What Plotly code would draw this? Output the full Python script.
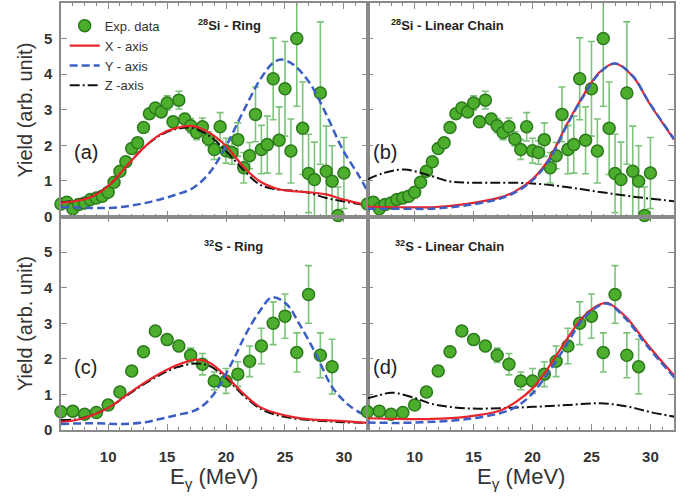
import plotly.graph_objects as go

# ---------------- data ----------------
si_energy = [6.0, 6.5, 7.0, 7.5, 8.0, 8.5, 9.0, 9.5, 10.0, 10.5, 11.0, 11.5, 12.0, 12.5,
             13.0, 13.5, 14.0, 14.5, 15.0, 15.5, 16.0, 16.5, 17.0, 17.5, 18.0, 18.5,
             19.0, 19.5, 20.0, 20.5, 21.0, 21.5, 22.0, 22.5, 23.0, 23.5, 24.0, 24.5,
             25.0, 25.5, 26.0, 26.5, 27.0, 27.5, 28.0, 28.5, 29.0, 29.5, 30.0]
si_yield = [0.35, 0.40, 0.22, 0.34, 0.38, 0.48, 0.52, 0.57, 0.68, 0.96, 1.27, 1.54, 1.91, 2.07,
            2.50, 2.89, 3.05, 2.94, 3.19, 2.66, 3.27, 2.74, 2.55, 2.36, 2.52, 2.18,
            1.88, 2.52, 1.85, 1.80, 2.16, 1.37, 1.71, 2.87, 1.88, 2.02, 3.87, 2.14,
            3.59, 1.84, 5.00, 2.48, 1.21, 1.04, 3.47, 1.27, 0.99, 0.03, 1.22]
si_err_up = [0.05, 0.05, 0.05, 0.05, 0.05, 0.05, 0.05, 0.05, 0.05, 0.05, 0.05, 0.05, 0.05, 0.08,
             0.10, 0.10, 0.10, 0.10, 0.20, 0.15, 0.25, 0.15, 0.20, 0.20, 0.25, 0.20,
             0.28, 0.40, 0.35, 0.33, 0.47, 0.43, 0.37, 0.77, 0.68, 0.80, 1.15, 0.94,
             1.33, 0.90, 1.90, 1.30, 1.10, 1.05, 2.00, 1.27, 1.00, 0.80, 1.00]
si_err_down = [0.05, 0.05, 0.05, 0.05, 0.05, 0.05, 0.05, 0.05, 0.05, 0.05, 0.05, 0.05, 0.05, 0.08,
               0.10, 0.10, 0.10, 0.10, 0.20, 0.15, 0.25, 0.15, 0.20, 0.20, 0.25, 0.20,
               0.28, 0.40, 0.35, 0.33, 0.47, 0.43, 0.37, 0.77, 0.68, 0.80, 1.15, 0.94,
               1.33, 0.90, 1.90, 1.30, 1.10, 1.04, 2.00, 1.27, 0.99, 0.03, 1.00]

s_energy = [6, 7, 8, 9, 10, 11, 12, 13, 14, 15, 16, 17, 18, 19, 20, 21, 22, 23, 24, 25, 26, 27, 28, 29]
s_yield = [0.51, 0.53, 0.44, 0.49, 0.70, 1.07, 1.66, 2.20, 2.78, 2.54, 2.36, 2.10,
           1.85, 1.38, 1.38, 1.57, 1.93, 2.36, 3.00, 3.20, 2.18, 3.81, 2.10, 1.78]
s_err = [0.05, 0.05, 0.05, 0.05, 0.05, 0.05, 0.05, 0.05, 0.10, 0.10, 0.15, 0.20,
         0.30, 0.25, 0.35, 0.35, 0.43, 0.50, 0.60, 0.62, 0.55, 0.81, 0.63, 0.77]

# (a) 28Si ring
a_x_E = [6, 7.5, 8.7, 10.15, 11.55, 13, 14.4, 15.8, 17.2, 18.6, 20, 21.45, 22.85, 24.3, 25.7, 27.1, 28.5, 29.9, 32]
a_x_Y = [0.38, 0.45, 0.57, 0.90, 1.41, 1.93, 2.30, 2.49, 2.54, 2.35, 1.98, 1.41, 0.99, 0.78, 0.71, 0.68, 0.62, 0.48, 0.32]
a_z_E = [6, 7.5, 8.7, 10.15, 11.55, 13, 14.4, 15.8, 17.2, 18.6, 20, 21.45, 22.85, 24.3, 25.7, 27.1, 28.5, 29.9, 32]
a_z_Y = [0.40, 0.46, 0.58, 0.90, 1.41, 1.93, 2.28, 2.46, 2.49, 2.26, 1.84, 1.32, 0.90, 0.76, 0.73, 0.66, 0.52, 0.43, 0.31]
a_y_E = [6, 8.7, 10.1, 11.6, 13.0, 14.4, 15.8, 17.2, 18.6, 20.0, 21.4, 22.9, 24.0, 24.7, 25.7, 27.1, 28.5, 29.9, 31.3, 32]
a_y_Y = [0.27, 0.24, 0.24, 0.29, 0.37, 0.48, 0.62, 0.80, 1.23, 1.98, 2.91, 3.85, 4.32, 4.41, 4.27, 3.75, 2.87, 1.88, 1.13, 0.71]

# (b) 28Si linear chain
b_xy_E = [6, 8.7, 11.5, 14.3, 17.2, 18.6, 20, 21.4, 22.85, 24.3, 25.7, 27, 28.5, 29.9, 32]
b_x_Y = [0.27, 0.26, 0.26, 0.35, 0.53, 0.72, 1.05, 1.62, 2.55, 3.40, 4.06, 4.30, 3.94, 3.19, 2.16]
b_y_Y = [0.22, 0.22, 0.22, 0.31, 0.50, 0.69, 1.02, 1.58, 2.52, 3.37, 4.04, 4.30, 3.95, 3.20, 2.18]
b_z_E = [6, 7.25, 9.1, 11.5, 12.9, 14.3, 17.2, 20, 22.85, 25.7, 28.5, 32]
b_z_Y = [1.04, 1.21, 1.32, 1.13, 0.99, 0.95, 0.95, 0.93, 0.83, 0.69, 0.56, 0.43]

# (c) 32S ring
c_xz_E = [6, 7.3, 8.7, 10.15, 11.55, 13, 14.4, 15.8, 17.5, 18.6, 20, 21.45, 22.85, 24.3, 25.7, 27.1, 29.9, 32]
c_x_Y = [0.23, 0.28, 0.42, 0.65, 0.98, 1.31, 1.59, 1.82, 1.98, 1.89, 1.51, 1.03, 0.65, 0.47, 0.36, 0.30, 0.25, 0.20]
c_z_Y = [0.28, 0.30, 0.43, 0.65, 0.96, 1.28, 1.55, 1.76, 1.87, 1.80, 1.46, 0.98, 0.61, 0.42, 0.33, 0.28, 0.22, 0.20]
c_y_E = [6, 8.7, 11, 13, 14.4, 15.8, 17.2, 18.1, 19.2, 20.6, 21.7, 22.9, 23.9, 25.1, 26.2, 27.6, 29, 30.4, 32]
c_y_Y = [0.17, 0.19, 0.17, 0.21, 0.31, 0.42, 0.53, 0.70, 1.12, 1.96, 2.71, 3.36, 3.73, 3.55, 2.99, 2.15, 1.21, 0.70, 0.37]

# (d) 32S linear chain
d_xy_E = [6, 8.7, 11.5, 14.3, 17.2, 18.6, 20, 21.4, 22.85, 24.3, 25.7, 26.4, 27.9, 29.9, 32.1]
d_x_Y = [0.33, 0.31, 0.31, 0.37, 0.54, 0.79, 1.17, 1.78, 2.52, 3.18, 3.53, 3.57, 3.18, 2.34, 1.50]
d_y_Y = [0.21, 0.20, 0.23, 0.30, 0.47, 0.65, 1.03, 1.64, 2.38, 3.13, 3.50, 3.55, 3.13, 2.29, 1.45]
d_z_E = [6, 7, 8.1, 10.1, 11.5, 14.3, 17.2, 20, 22.85, 25.7, 27.9, 29.9, 32.1]
d_z_Y = [0.89, 0.98, 1.05, 0.89, 0.73, 0.61, 0.61, 0.65, 0.70, 0.75, 0.67, 0.51, 0.37]

legend_names = ["Exp. data", "X - axis", "Y - axis", "Z -axis"]
panel_titles = ["<sup>28</sup>Si - Ring", "<sup>28</sup>Si - Linear Chain",
                "<sup>32</sup>S - Ring", "<sup>32</sup>S - Linear Chain"]
panel_letters = ["(a)", "(b)", "(c)", "(d)"]

# ---------------- styles ----------------
FONT = "Liberation Sans, Arial, sans-serif"
GREEN = "#4cae2c"
GREEN_EDGE = "#2b7a1c"
ERR = "#7cc47a"
RED = "#e8242c"
BLUE = "#3b5fc4"
BLACK = "#111111"
AX = "#8a8a8a"
DASHDOT = "10px,3px,2px,3px"

fig = go.Figure()

panels = [
    ("x", "y", si_energy, si_yield, si_err_up, si_err_down,
     (a_x_E, a_x_Y), (a_y_E, a_y_Y), (a_z_E, a_z_Y)),
    ("x2", "y2", si_energy, si_yield, si_err_up, si_err_down,
     (b_xy_E, b_x_Y), (b_xy_E, b_y_Y), (b_z_E, b_z_Y)),
    ("x3", "y3", s_energy, s_yield, s_err, s_err,
     (c_xz_E, c_x_Y), (c_y_E, c_y_Y), (c_xz_E, c_z_Y)),
    ("x4", "y4", s_energy, s_yield, s_err, s_err,
     (d_xy_E, d_x_Y), (d_xy_E, d_y_Y), (d_z_E, d_z_Y)),
]

for i, (xa, ya, ex, ey, eu, ed, cx, cy, cz) in enumerate(panels):
    first = i == 0
    fig.add_trace(go.Scatter(
        x=ex, y=ey, mode="markers", name=legend_names[0], showlegend=first,
        legendrank=1, xaxis=xa, yaxis=ya, cliponaxis=False,
        marker=dict(size=12, color=GREEN, line=dict(color=GREEN_EDGE, width=1.5)),
        error_y=dict(type="data", array=eu, arrayminus=ed, symmetric=False,
                     color=ERR, thickness=1.6, width=3.5),
    ))
    fig.add_trace(go.Scatter(
        x=cz[0], y=cz[1], mode="lines", name=legend_names[3], showlegend=first,
        legendrank=4, xaxis=xa, yaxis=ya,
        line=dict(color=BLACK, width=2, dash=DASHDOT, shape="spline", smoothing=1.0)))
    fig.add_trace(go.Scatter(
        x=cx[0], y=cx[1], mode="lines", name=legend_names[1], showlegend=first,
        legendrank=2, xaxis=xa, yaxis=ya,
        line=dict(color=RED, width=2.2, shape="spline", smoothing=1.0)))
    fig.add_trace(go.Scatter(
        x=cy[0], y=cy[1], mode="lines", name=legend_names[2], showlegend=first,
        legendrank=3, xaxis=xa, yaxis=ya,
        line=dict(color=BLUE, width=2.5, dash="8px,4px", shape="spline", smoothing=1.0)))

common_x = dict(range=[6, 32], tick0=0, dtick=5, ticks="inside", ticklen=6, tickwidth=1.2,
                tickcolor=AX, showline=True, linecolor=AX, linewidth=1.5, mirror="ticks",
                showgrid=False, zeroline=False, automargin=False,
                minor=dict(ticks="inside", ticklen=3, dtick=1, tickcolor=AX, tickwidth=1),
                tickfont=dict(family=FONT, size=15, color="#333333", weight="bold"),
                ticklabelstandoff=12)
common_y = dict(range=[0, 6], ticks="inside", ticklen=6, tickwidth=1.2, tickcolor=AX,
                showline=True, linecolor=AX, linewidth=1.5, mirror="ticks",
                showgrid=False, zeroline=False, automargin=False,
                tickfont=dict(family=FONT, size=15, color="#333333", weight="bold"),
                ticklabelstandoff=4)

fig.update_layout(
    template="none",
    width=694, height=497,
    margin=dict(l=61, r=20, t=3, b=67, autoexpand=False),
    paper_bgcolor="white", plot_bgcolor="white",
    font=dict(family=FONT, color="#333333"),
    xaxis=dict(common_x, domain=[0, 0.5], anchor="y", showticklabels=False),
    yaxis=dict(common_y, domain=[0.5, 1], anchor="x", tickvals=[0, 1, 2, 3, 4, 5, 6]),
    xaxis2=dict(common_x, domain=[0.5, 1], anchor="y2", showticklabels=False),
    yaxis2=dict(common_y, domain=[0.5, 1], anchor="x2", tickvals=[0, 1, 2, 3, 4, 5, 6],
                showticklabels=False),
    xaxis3=dict(common_x, domain=[0, 0.5], anchor="y3"),
    yaxis3=dict(common_y, domain=[0, 0.5], anchor="x3", tickvals=[0, 1, 2, 3, 4, 5]),
    xaxis4=dict(common_x, domain=[0.5, 1], anchor="y4"),
    yaxis4=dict(common_y, domain=[0, 0.5], anchor="x4", tickvals=[0, 1, 2, 3, 4, 5],
                showticklabels=False),
    showlegend=True,
    legend=dict(x=0.006, y=0.982, xanchor="left", yanchor="top",
                bgcolor="rgba(0,0,0,0)", font=dict(family=FONT, size=13, color="#333333"),
                tracegroupgap=0, itemwidth=30, traceorder="normal"),
)

ann = []
# y-axis titles
for yc in [0.75, 0.25]:
    ann.append(dict(text="Yield (arb. unit)", xref="paper", yref="paper", x=-0.059, y=yc,
                    xanchor="center", yanchor="middle", textangle=-90, showarrow=False,
                    font=dict(family=FONT, size=20, color="#333333")))
# x-axis titles
for xc in [0.25, 0.75]:
    ann.append(dict(text="E<sub>γ</sub> (MeV)", xref="paper", yref="paper", x=xc, y=-0.113,
                    xanchor="center", yanchor="middle", showarrow=False,
                    font=dict(family=FONT, size=22, color="#333333")))
# panel titles
title_pos = [("x", "y", 20.3, 5.39, "center"), ("x2", "y2", 7.8, 5.39, "left"),
             ("x3", "y3", 20.6, 5.18, "center"), ("x4", "y4", 8.2, 5.18, "left")]
for t, (xr, yr, xv, yv, anc) in zip(panel_titles, title_pos):
    ann.append(dict(text=t, xref=xr, yref=yr, x=xv, y=yv, xanchor=anc, yanchor="middle",
                    showarrow=False, font=dict(family=FONT, size=13, color="#222222",
                                               weight="bold")))
letter_pos = [("x", "y", 8.1, 1.8), ("x2", "y2", 7.5, 1.8),
              ("x3", "y3", 8.1, 1.76), ("x4", "y4", 7.5, 1.76)]
for t, (xr, yr, xv, yv) in zip(panel_letters, letter_pos):
    ann.append(dict(text=t, xref=xr, yref=yr, x=xv, y=yv, xanchor="center", yanchor="middle",
                    showarrow=False, font=dict(family=FONT, size=20, color="#222222")))
fig.update_layout(annotations=ann)

fig.write_html("out.html", config={"displayModeBar": False},
               post_script="document.body.style.margin='0px';document.body.style.overflow='hidden';")
